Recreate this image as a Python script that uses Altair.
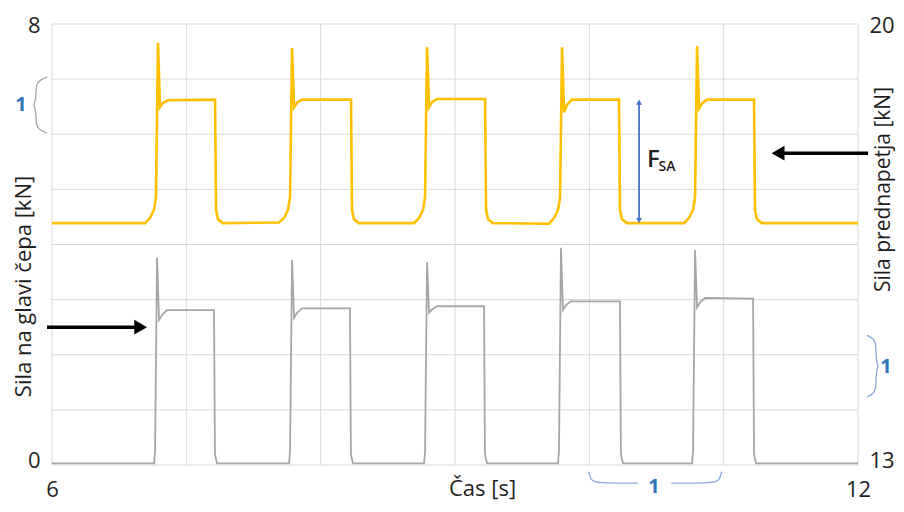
import altair as alt
import pandas as pd

FONT = "Open Sans"
TXT = "#1f1f1f"
YELLOW = "#FFC000"
GRAY = "#A6A6A6"
GRID = "#D9D9D9"
BLUE = "#2E75B6"
BRACE = "#8EAADB"

# ---- data ----
yellow_t = [6.000, 6.692, 6.729, 6.759, 6.774, 6.789, 6.804, 6.826, 6.863, 7.214, 7.221, 7.236, 7.273,
            7.690, 7.727, 7.757, 7.772, 7.787, 7.802, 7.824, 7.861, 8.226, 8.233, 8.248, 8.285,
            8.695, 8.732, 8.762, 8.777, 8.792, 8.807, 8.829, 8.866, 9.224, 9.231, 9.246, 9.283,
            9.700, 9.737, 9.767, 9.782, 9.797, 9.812, 9.834, 9.871, 10.221, 10.228, 10.243, 10.280,
            10.705, 10.742, 10.772, 10.787, 10.802, 10.817, 10.839, 10.876, 11.226, 11.233, 11.248, 11.285, 12.000]
yellow_v = [16.84, 16.84, 16.92, 17.05, 17.25, 19.70, 18.68, 18.75, 18.79, 18.80, 17.05, 16.90, 16.84,
            16.85, 16.92, 17.05, 17.25, 19.62, 18.68, 18.75, 18.80, 18.80, 17.05, 16.90, 16.84,
            16.84, 16.92, 17.05, 17.25, 19.63, 18.68, 18.76, 18.81, 18.81, 17.05, 16.90, 16.84,
            16.83, 16.92, 17.05, 17.25, 19.63, 18.60, 18.72, 18.80, 18.80, 17.05, 16.90, 16.84,
            16.84, 16.92, 17.05, 17.25, 19.65, 18.66, 18.74, 18.80, 18.80, 17.05, 16.90, 16.84, 16.84]

gray_t = [6.000, 6.760, 6.767, 6.782, 6.797, 6.819, 6.856, 7.206, 7.213, 7.228,
          7.765, 7.772, 7.787, 7.802, 7.824, 7.861, 8.218, 8.225, 8.240,
          8.770, 8.777, 8.792, 8.807, 8.829, 8.866, 9.216, 9.223, 9.238,
          9.767, 9.774, 9.789, 9.804, 9.826, 9.863, 10.228, 10.235, 10.250,
          10.765, 10.772, 10.787, 10.802, 10.824, 10.861, 11.219, 11.226, 11.241, 12.000]
gray_v = [0.03, 0.03, 0.25, 3.76, 2.63, 2.72, 2.81, 2.81, 0.20, 0.03,
          0.03, 0.25, 3.72, 2.67, 2.76, 2.84, 2.84, 0.20, 0.03,
          0.03, 0.25, 3.68, 2.76, 2.82, 2.88, 2.88, 0.20, 0.03,
          0.03, 0.25, 3.94, 2.81, 2.90, 2.97, 2.97, 0.20, 0.03,
          0.03, 0.25, 3.90, 2.86, 2.95, 3.03, 3.02, 0.20, 0.03, 0.03]

grid_x = [6, 7, 8, 9, 10, 11, 12]
grid_y = [0, 1, 2, 3, 4, 5, 6, 7, 8]
x_ticks = [6, 12]
left_ticks = [0, 8]
right_ticks = [13, 20]

# annotations (data units)
left_brace_t = [5.963, 5.900, 5.881, 5.881, 5.859, 5.881, 5.881, 5.900, 5.963]
left_brace_v = [7.04, 6.97, 6.89, 6.62, 6.53, 6.44, 6.17, 6.09, 6.02]
right_brace_t = [12.067, 12.120, 12.134, 12.134, 12.155, 12.134, 12.134, 12.120, 12.067]
right_brace_v = [15.06, 15.00, 14.92, 14.65, 14.57, 14.49, 14.22, 14.14, 14.08]
bottom_brace_t = [9.995, 10.010, 10.050, 10.360, 10.610, 10.930, 10.970, 10.985]
bottom_brace_v = [-0.12, -0.27, -0.33, -0.33, -0.33, -0.33, -0.27, -0.12]
bottom_brace_seg = [0, 0, 0, 0, 1, 1, 1, 1]

one_left = (5.769, 6.53)
one_right = (12.209, 14.56)
one_bottom = (10.482, -0.40)

left_arrow = (5.963, 6.64, 2.50)      # t start, t end, value (left axis)
left_head = (6.66, 2.50)
right_arrow = (12.075, 11.43, 17.95)  # right axis
right_head = (11.405, 17.95)
fsa_t = 10.37
fsa_lo, fsa_hi = 16.88, 18.76
f_pos = (10.429, 17.73)
sa_pos = (10.515, 17.66)

# ---- scales / axes ----
XS = alt.Scale(domain=[6, 12], nice=False, zero=False)
YL = alt.Scale(domain=[0, 8], nice=False, zero=False)
YR = alt.Scale(domain=[13, 20], nice=False, zero=False)

common = dict(grid=False, domain=False, ticks=False, labelFont=FONT, labelFontSize=22,
              labelColor=TXT, titleFont=FONT, titleFontWeight="normal", titleColor=TXT)

x_axis = alt.Axis(values=x_ticks, title="Čas [s]", labelFlush=False, labelPadding=14,
                  titleFontSize=22, titleX=430, titleY=23, titleBaseline="middle", **common)
left_axis = alt.Axis(orient="left", values=left_ticks, title="Sila na glavi čepa [kN]",
                     labelPadding=12,
                     labelOffset={"condition": {"test": "datum.value >= 8", "value": 1}, "value": -5},
                     titleFontSize=22, titleAngle=270,
                     titleX=-29, titleY=262, titleBaseline="middle", **common)
right_axis = alt.Axis(orient="right", values=right_ticks, title="Sila prednapetja [kN]",
                      labelPadding=11,
                      labelOffset={"condition": {"test": "datum.value >= 20", "value": 1}, "value": -5},
                      titleFontSize=21, titleAngle=270,
                      titleX=25, titleY=165, titleBaseline="middle", **common)


def X(f="t"):
    return alt.X(f"{f}:Q", scale=XS, axis=x_axis)


def YLe(f="v"):
    return alt.Y(f"{f}:Q", scale=YL, axis=left_axis)


def YRe(f="v"):
    return alt.Y(f"{f}:Q", scale=YR, axis=right_axis)


# ---- left (gray) layer ----
grid_v = alt.Chart(pd.DataFrame({"t": grid_x})).mark_rule(color=GRID, strokeWidth=1).encode(x=X())
grid_h = alt.Chart(pd.DataFrame({"v": grid_y})).mark_rule(color=GRID, strokeWidth=1).encode(y=YLe())
gray_line = alt.Chart(pd.DataFrame({"t": gray_t, "v": gray_v})).mark_line(
    color=GRAY, strokeWidth=1.8).encode(x=X(), y=YLe())

lb = alt.Chart(pd.DataFrame({"t": left_brace_t, "v": left_brace_v, "i": list(range(len(left_brace_t)))})
               ).mark_line(color="#A6A6A6", strokeWidth=1.3, interpolate="basis").encode(
    x=X(), y=YLe(), order="i:Q")
bb = alt.Chart(pd.DataFrame({"t": bottom_brace_t, "v": bottom_brace_v, "seg": bottom_brace_seg,
                             "i": list(range(len(bottom_brace_t)))})
               ).mark_line(color=BRACE, strokeWidth=1.3, interpolate="basis").encode(
    x=X(), y=YLe(), order="i:Q", detail="seg:N")
ones_left = alt.Chart(pd.DataFrame({"t": [one_left[0], one_bottom[0]], "v": [one_left[1], one_bottom[1]],
                                    "s": ["1", "1"]})).mark_text(
    color=BLUE, font=FONT, fontSize=20, fontWeight="bold").encode(x=X(), y=YLe(), text="s:N")
la = alt.Chart(pd.DataFrame({"t": [left_arrow[0]], "t2": [left_arrow[1]], "v": [left_arrow[2]]})
               ).mark_rule(color="black", strokeWidth=3.5).encode(x=X(), x2="t2:Q", y=YLe())
lh = alt.Chart(pd.DataFrame({"t": [left_head[0]], "v": [left_head[1]]})).mark_point(
    shape="triangle-right", filled=True, color="black", opacity=1, size=220).encode(x=X(), y=YLe())

left_layer = alt.layer(grid_v, grid_h, gray_line, lb, bb, ones_left, la, lh)

# ---- right (yellow) layer ----
yellow_line = alt.Chart(pd.DataFrame({"t": yellow_t, "v": yellow_v})).mark_line(
    color=YELLOW, strokeWidth=2.6).encode(x=X(), y=YRe())
rb = alt.Chart(pd.DataFrame({"t": right_brace_t, "v": right_brace_v, "i": list(range(len(right_brace_t)))})
               ).mark_line(color=BRACE, strokeWidth=1.3, interpolate="basis").encode(
    x=X(), y=YRe(), order="i:Q")
one_r = alt.Chart(pd.DataFrame({"t": [one_right[0]], "v": [one_right[1]], "s": ["1"]})).mark_text(
    color=BLUE, font=FONT, fontSize=20, fontWeight="bold").encode(x=X(), y=YRe(), text="s:N")
ra = alt.Chart(pd.DataFrame({"t": [right_arrow[0]], "t2": [right_arrow[1]], "v": [right_arrow[2]]})
               ).mark_rule(color="black", strokeWidth=3.5).encode(x=X(), x2="t2:Q", y=YRe())
rh = alt.Chart(pd.DataFrame({"t": [right_head[0]], "v": [right_head[1]]})).mark_point(
    shape="triangle-left", filled=True, color="black", opacity=1, size=220).encode(x=X(), y=YRe())
fa = alt.Chart(pd.DataFrame({"t": [fsa_t], "v": [fsa_lo], "v2": [fsa_hi]})).mark_rule(
    color="#4472C4", strokeWidth=1.8).encode(x=X(), y=YRe(), y2="v2:Q")
fa_up = alt.Chart(pd.DataFrame({"t": [fsa_t], "v": [fsa_hi]})).mark_point(
    shape="triangle-up", filled=True, color="#4472C4", opacity=1, size=35).encode(x=X(), y=YRe())
fa_dn = alt.Chart(pd.DataFrame({"t": [fsa_t], "v": [fsa_lo]})).mark_point(
    shape="triangle-down", filled=True, color="#4472C4", opacity=1, size=35).encode(x=X(), y=YRe())
f_txt = alt.Chart(pd.DataFrame({"t": [f_pos[0]], "v": [f_pos[1]], "s": ["F"]})).mark_text(
    color=TXT, font=FONT, fontSize=24, fontWeight=600, align="left", baseline="alphabetic").encode(
    x=X(), y=YRe(), text="s:N")
sa_txt = alt.Chart(pd.DataFrame({"t": [sa_pos[0]], "v": [sa_pos[1]], "s": ["SA"]})).mark_text(
    color=TXT, font=FONT, fontSize=14, fontWeight=600, align="left", baseline="alphabetic").encode(
    x=X(), y=YRe(), text="s:N")

right_layer = alt.layer(yellow_line, rb, one_r, ra, rh, fa, fa_up, fa_dn, f_txt, sa_txt)

chart = alt.layer(left_layer, right_layer).resolve_scale(y="independent").properties(
    width=806, height=441,
    autosize=alt.AutoSizeParams(type="none"),
    padding={"left": 44, "top": 16, "right": 38, "bottom": 36},
    background="white",
).configure_view(strokeWidth=0)

chart.save("out.html", embed_options={"renderer": "svg", "actions": False})
